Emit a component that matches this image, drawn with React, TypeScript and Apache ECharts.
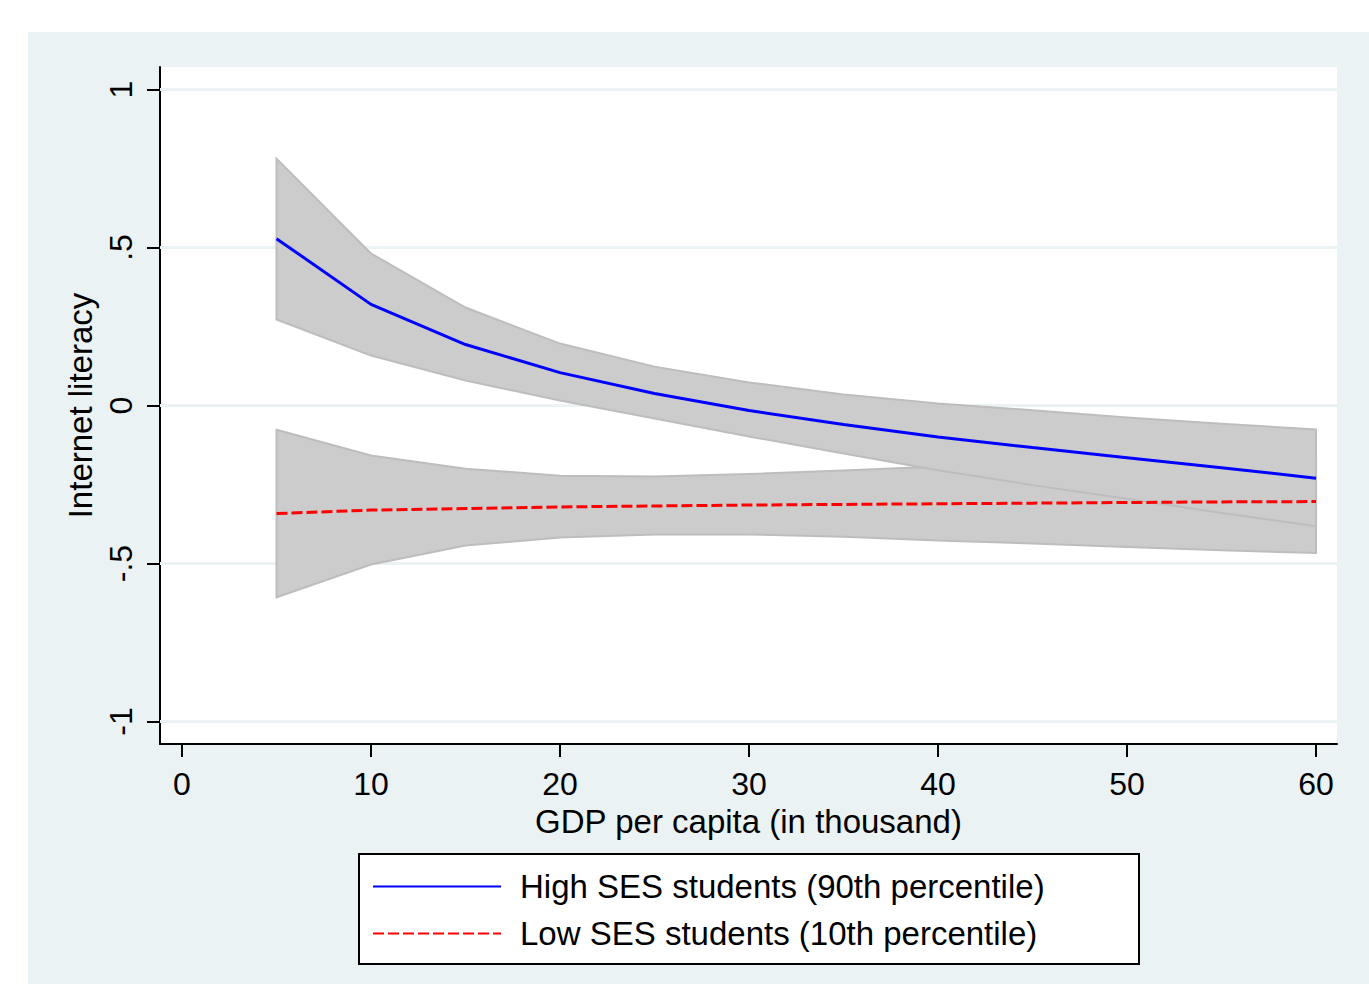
import { useEffect, useRef } from "react";
import * as echarts from "echarts";

// GDP per capita (in thousand)
const gdp = [5, 10, 15, 20, 25, 30, 35, 40, 45, 50, 55, 60];

// High SES students (90th percentile)
const highSES = [0.528, 0.32, 0.193, 0.104, 0.038, -0.016, -0.06, -0.1, -0.133, -0.165, -0.197, -0.23];
const highUpper = [0.781, 0.481, 0.31, 0.196, 0.123, 0.073, 0.035, 0.006, -0.015, -0.038, -0.058, -0.076];
const highLower = [0.272, 0.158, 0.079, 0.016, -0.041, -0.098, -0.152, -0.205, -0.252, -0.295, -0.34, -0.382];

// Low SES students (10th percentile)
const lowSES = [-0.342, -0.331, -0.326, -0.321, -0.318, -0.315, -0.313, -0.311, -0.309, -0.307, -0.305, -0.304];
const lowUpper = [-0.077, -0.158, -0.2, -0.222, -0.225, -0.217, -0.206, -0.193, -0.182, -0.172, -0.164, -0.157];
const lowLower = [-0.607, -0.503, -0.443, -0.418, -0.408, -0.408, -0.415, -0.427, -0.437, -0.448, -0.458, -0.467];

const xTicks = [0, 10, 20, 30, 40, 50, 60];
const yTicks = [-1, -0.5, 0, 0.5, 1];
const yTickLabels = ["-1", "-.5", "0", ".5", "1"];

const highName = "High SES students (90th percentile)";
const lowName = "Low SES students (10th percentile)";

const FONT = "'Liberation Sans', Arial, sans-serif";

function bandSeries(name: string, lower: number[], upper: number[]) {
  return {
    type: "custom",
    name,
    z: 2,
    silent: true,
    clip: true,
    data: gdp.map((x, i) => [x, lower[i], upper[i]]),
    encode: { x: 0, y: [1, 2] },
    renderItem: (params: any, api: any) => {
      if (params.dataIndex !== 0) return null;
      const pts: number[][] = [];
      for (let i = 0; i < gdp.length; i++) pts.push(api.coord([gdp[i], upper[i]]));
      for (let i = gdp.length - 1; i >= 0; i--) pts.push(api.coord([gdp[i], lower[i]]));
      return {
        type: "polygon",
        shape: { points: pts },
        style: { fill: "#cccccc", stroke: "#bdbdbd", lineWidth: 2 },
      };
    },
  };
}

export default function App() {
  const ref = useRef<HTMLDivElement>(null);

  useEffect(() => {
    document.body.style.margin = "0";
    document.body.style.overflow = "hidden";
    if (!ref.current) return;
    const chart = echarts.init(ref.current, undefined, { renderer: "svg" });
    const option: any = {
      animation: false,
      backgroundColor: "#eaf2f3",
      textStyle: { fontFamily: FONT, color: "#000" },
      grid: {
        left: 132,
        top: 35,
        right: 32,
        bottom: 240,
        show: true,
        backgroundColor: "#ffffff",
        borderWidth: 0,
      },
      xAxis: {
        type: "value",
        min: -1.164,
        max: 61.11,
        name: "GDP per capita (in thousand)",
        nameLocation: "middle",
        nameGap: 53,
        nameTextStyle: { fontSize: 33, color: "#000", fontFamily: FONT },
        axisLine: { show: true, onZero: false, lineStyle: { color: "#000", width: 2 } },
        axisTick: { show: true, length: 13, customValues: xTicks, lineStyle: { color: "#000", width: 2 } },
        axisLabel: {
          customValues: xTicks,
          fontSize: 32,
          margin: 24,
          color: "#000",
          fontFamily: FONT,
          formatter: (v: number) => String(v),
        },
        splitLine: { show: false },
      },
      yAxis: {
        type: "value",
        min: -1.0712,
        max: 1.0712,
        name: "Internet literacy",
        nameLocation: "middle",
        nameRotate: 90,
        nameGap: 59,
        nameTextStyle: { fontSize: 33, color: "#000", fontFamily: FONT },
        axisLine: { show: true, onZero: false, lineStyle: { color: "#000", width: 2 } },
        axisTick: { show: true, length: 13, customValues: yTicks, lineStyle: { color: "#000", width: 2 } },
        axisLabel: {
          customValues: yTicks,
          rotate: 90,
          fontSize: 32,
          margin: 23,
          color: "#000",
          fontFamily: FONT,
          formatter: (v: number) => {
            const i = yTicks.findIndex((t) => Math.abs(t - v) < 1e-9);
            return i >= 0 ? yTickLabels[i] : "";
          },
        },
        splitLine: { show: false },
      },
      legend: {
        orient: "vertical",
        left: 344,
        top: 838,
        data: [highName, lowName],
        itemWidth: 128,
        itemHeight: 20,
        itemGap: 14,
        padding: 0,
        selectedMode: false,
        itemStyle: { color: "transparent", borderColor: "transparent", borderWidth: 0, opacity: 0 },
        textStyle: { fontSize: 33, color: "#000", fontFamily: FONT, padding: [0, 0, 0, 14] },
      },
      graphic: [
        {
          type: "rect",
          left: 330,
          top: 821,
          z: -1,
          shape: { width: 780, height: 110 },
          style: { fill: "#ffffff", stroke: "#000000", lineWidth: 2 },
          silent: true,
        },
      ],
      series: [
        {
          type: "line",
          name: "gridlines",
          data: [],
          z: 1,
          silent: true,
          markLine: {
            z: 1,
            silent: true,
            symbol: ["none", "none"],
            label: { show: false },
            lineStyle: { color: "#eaf2f3", width: 3, type: "solid" },
            data: yTicks.map((v) => ({ yAxis: v })),
          },
        },
        bandSeries("Low SES CI", lowLower, lowUpper),
        bandSeries("High SES CI", highLower, highUpper),
        {
          type: "line",
          name: highName,
          data: gdp.map((x, i) => [x, highSES[i]]),
          symbol: "none",
          z: 3,
          lineStyle: { color: "#0000ff", width: 3 },
          itemStyle: { color: "#0000ff" },
        },
        {
          type: "line",
          name: lowName,
          data: gdp.map((x, i) => [x, lowSES[i]]),
          symbol: "none",
          z: 3,
          lineStyle: { color: "#ff0000", width: 3, type: [11, 4] },
          itemStyle: { color: "#ff0000" },
        },
      ],
    };
    chart.setOption(option);
    return () => chart.dispose();
  }, []);

  return (
    <div style={{ width: 1369, height: 984, background: "#ffffff", position: "relative" }}>
      <div ref={ref} style={{ position: "absolute", left: 28, top: 32, width: 1341, height: 952 }} />
    </div>
  );
}
